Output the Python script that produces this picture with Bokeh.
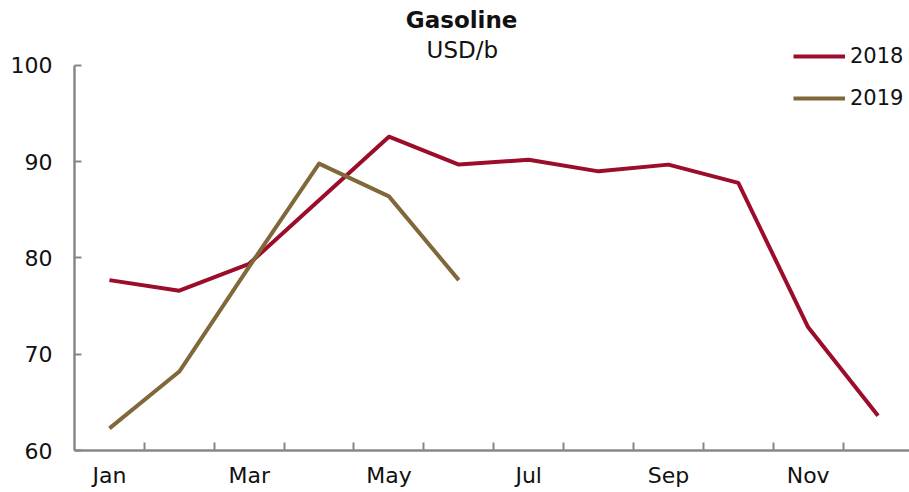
from bokeh.plotting import figure
from bokeh.models import (Range1d, FixedTicker, Legend, LegendItem, Label)
from bokeh.embed import file_html
from bokeh.resources import INLINE

months = ["Jan", "Feb", "Mar", "Apr", "May", "Jun", "Jul", "Aug", "Sep", "Oct", "Nov", "Dec"]
gas_2018 = [77.7, 76.6, 79.4, 86.0, 92.6, 89.7, 90.2, 89.0, 89.7, 87.8, 72.8, 63.6]
gas_2019 = [62.3, 68.2, 79.1, 89.8, 86.4, 77.7]
y_ticks = [60, 70, 80, 90, 100]
title_text = "Gasoline"
subtitle_text = "USD/b"

FONT = "DejaVu Sans"
RED = "#9C0D2C"
BROWN = "#81683A"
AXIS = "#878787"
TXT = "#111111"

p = figure(width=909, height=492, output_backend="svg", toolbar_location=None,
           x_range=Range1d(-0.5, 11.45), y_range=Range1d(60, 106.75),
           min_border_left=74, min_border_top=0, min_border_bottom=42, min_border_right=0)
p.outline_line_color = None
p.xgrid.visible = False
p.ygrid.visible = False
p.background_fill_color = "white"
p.border_fill_color = "white"

x18 = list(range(len(gas_2018)))
x19 = list(range(len(gas_2019)))
r18 = p.line(x18, gas_2018, line_color=RED, line_width=4, line_join="round")
r19 = p.line(x19, gas_2019, line_color=BROWN, line_width=4, line_join="round")

# axes
label_idx = list(range(0, 12, 2))
p.xaxis.ticker = FixedTicker(ticks=label_idx, minor_ticks=[i + 0.5 for i in range(11)])
p.xaxis.major_label_overrides = {i: months[i] for i in label_idx}
p.xaxis.major_tick_in = 0
p.xaxis.major_tick_out = 0
p.xaxis.minor_tick_in = 8
p.xaxis.minor_tick_out = 0
p.xaxis.minor_tick_line_color = AXIS
p.xaxis.minor_tick_line_width = 2
p.xaxis.major_label_standoff = 12

p.yaxis.ticker = FixedTicker(ticks=y_ticks)
p.yaxis.bounds = (60, 100)
p.yaxis.major_tick_in = 7
p.yaxis.major_tick_out = 0
p.yaxis.minor_tick_in = 0
p.yaxis.minor_tick_out = 0
p.yaxis.major_label_standoff = 22

for ax in (p.xaxis, p.yaxis):
    ax.axis_line_color = AXIS
    ax.axis_line_width = 2.5
    ax.major_tick_line_color = AXIS
    ax.major_tick_line_width = 2
    ax.major_label_text_font = FONT
    ax.major_label_text_font_size = "22px"
    ax.major_label_text_color = TXT

# titles
p.add_layout(Label(x=5.04, y=104.68, text=title_text, text_font=FONT, text_font_style="bold",
                   text_font_size="23px", text_align="center", text_baseline="middle",
                   text_color=TXT))
p.add_layout(Label(x=5.05, y=101.56, text=subtitle_text, text_font=FONT,
                   text_font_size="23px", text_align="center", text_baseline="middle",
                   text_color=TXT))

legend = Legend(items=[LegendItem(label="2018", renderers=[r18]),
                       LegendItem(label="2019", renderers=[r19])],
                location=(719, 339), orientation="vertical",
                glyph_width=52, glyph_height=26, label_height=26, label_standoff=5,
                spacing=16, padding=0, margin=0,
                border_line_color=None, background_fill_alpha=0,
                label_text_font=FONT, label_text_font_size="21px", label_text_color=TXT)
p.add_layout(legend)

open("out.html", "w").write(file_html(p, INLINE))
